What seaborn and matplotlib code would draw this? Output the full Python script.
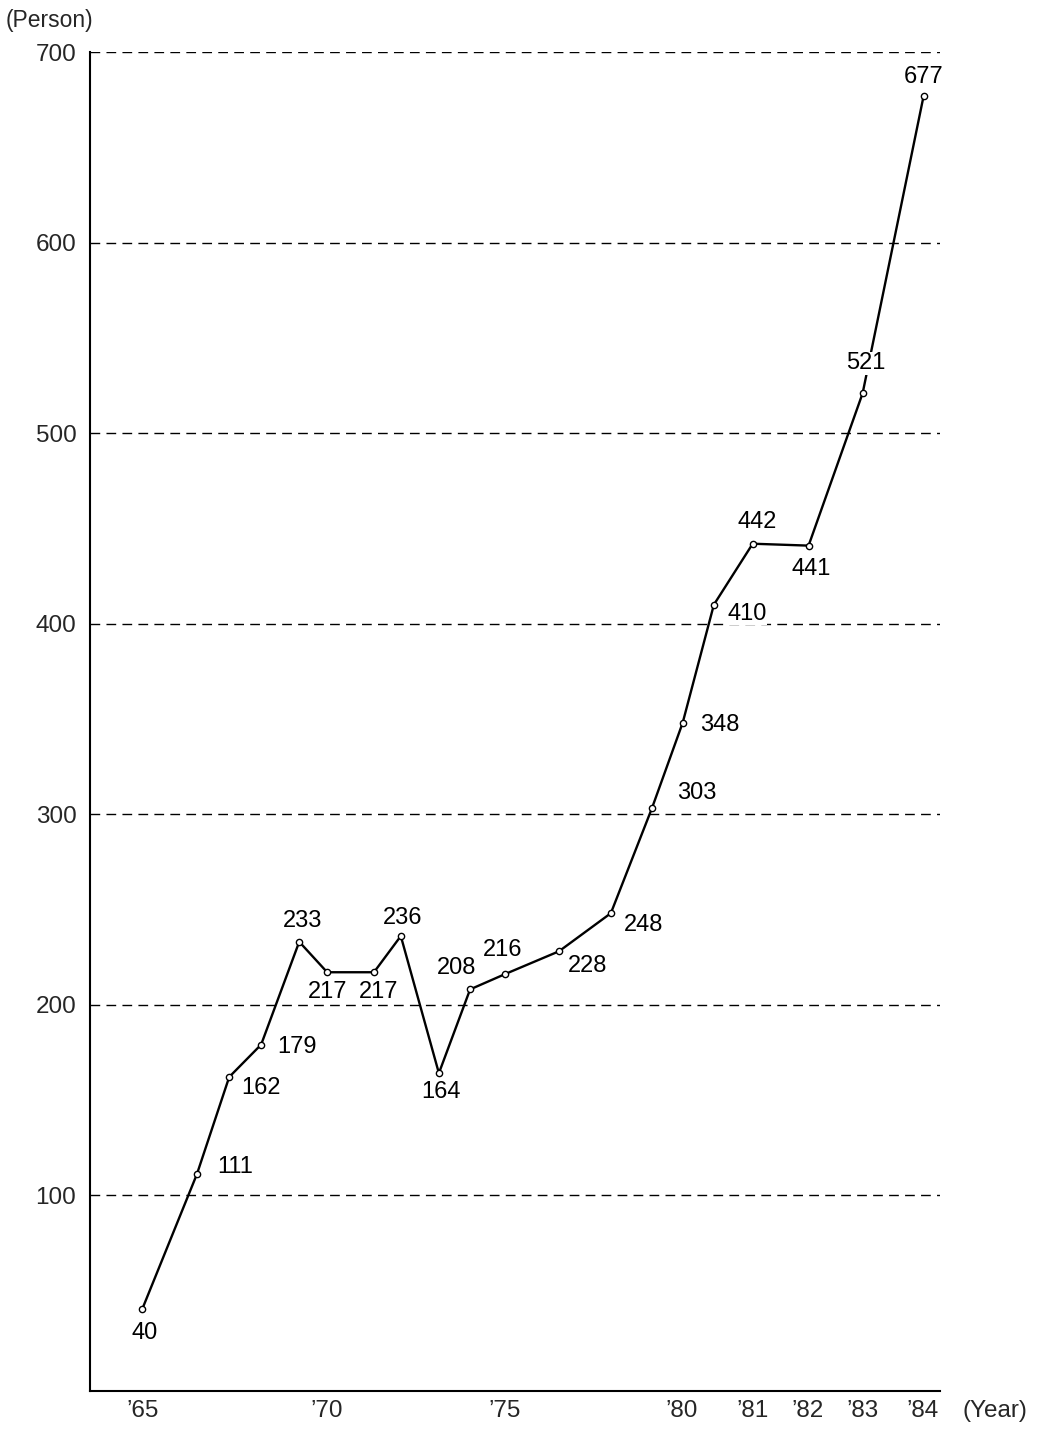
import matplotlib
matplotlib.use("Agg")
import matplotlib.pyplot as plt
import seaborn as sns
import pandas as pd

# ---- data ----
values = [40, 111, 162, 179, 233, 217, 217, 236, 164, 208,
          216, 228, 248, 303, 348, 410, 442, 441, 521, 677]
# horizontal position of each point, in "year units" measured from '65
x_pos = [0.0, 1.51, 2.40, 3.28, 4.33, 5.10, 6.39, 7.13, 8.18, 9.04,
         10.0, 11.49, 12.92, 14.05, 14.90, 15.76, 16.83, 18.37, 19.86, 21.54]
tick_pos = [0.0, 5.10, 10.0, 14.88, 16.83, 18.35, 19.86, 21.51]
tick_labels = ["\u201965", "\u201970", "\u201975", "\u201980",
               "\u201981", "\u201982", "\u201983", "\u201984"]
y_ticks = [100, 200, 300, 400, 500, 600, 700]

# label offsets in pixels (dx, dy up) -- layout only
label_offsets = [(2, -24), (38, 7), (32, -11), (36, -2), (3, 21),
                 (0, -20), (5, -20), (2, 18), (2, -19), (-14, 21),
                 (-2, 24), (29, -15), (33, -12), (45, 15), (37, -2),
                 (33, -9), (4, 22), (3, -23), (3, 30), (0, 19)]

df = pd.DataFrame({"x": x_pos, "value": values})

sns.set_style("white")
plt.rcParams["font.family"] = ["Liberation Sans", "DejaVu Sans"]

fig = plt.figure(figsize=(10.4, 14.3), dpi=100)
ax = fig.add_axes([0.0861, 0.0275, 0.9041 - 0.0861, 0.9634 - 0.0275])

sns.lineplot(data=df, x="x", y="value", ax=ax, color="black", lw=1.7,
             marker="o", markersize=4.5, markerfacecolor="white",
             markeredgecolor="black", markeredgewidth=1.0, zorder=3)

FS = 17.5
for xv, yv, (dx, dy) in zip(x_pos, values, label_offsets):
    ax.annotate(str(yv), (xv, yv), xytext=(dx, dy), textcoords="offset pixels",
                ha="center", va="center", fontsize=17, color="black", zorder=4,
                bbox=dict(facecolor="white", edgecolor="none", pad=0.5))

ax.set_xlim(-1.45, 22.0)
ax.set_ylim(-2.7, 700)
ax.set_yticks(y_ticks)
ax.set_yticklabels([str(v) for v in y_ticks], fontsize=FS)
ax.set_xticks(tick_pos)
ax.set_xticklabels(tick_labels, fontsize=FS)
ax.tick_params(axis="y", length=0, pad=9.5)
ax.tick_params(axis="x", direction="in", length=4, width=1.0, pad=7, color="black")

ax.yaxis.grid(True, color="black", linestyle=(0, (7, 4.5)), linewidth=1.0)
ax.xaxis.grid(False)
ax.set_axisbelow(True)

for s in ["top", "right"]:
    ax.spines[s].set_visible(False)
for s in ["left", "bottom"]:
    ax.spines[s].set_color("black")
    ax.spines[s].set_linewidth(1.5)

ax.set_xlabel("")
ax.set_ylabel("")

fig.text(6 / 1040, 1 - 20 / 1430, "(Person)", ha="left", va="center", fontsize=16.5)
fig.text(962 / 1040, 1 - 1411 / 1430, "(Year)", ha="left", va="center", fontsize=FS)

fig.savefig("out.png", dpi=100, facecolor="white")
